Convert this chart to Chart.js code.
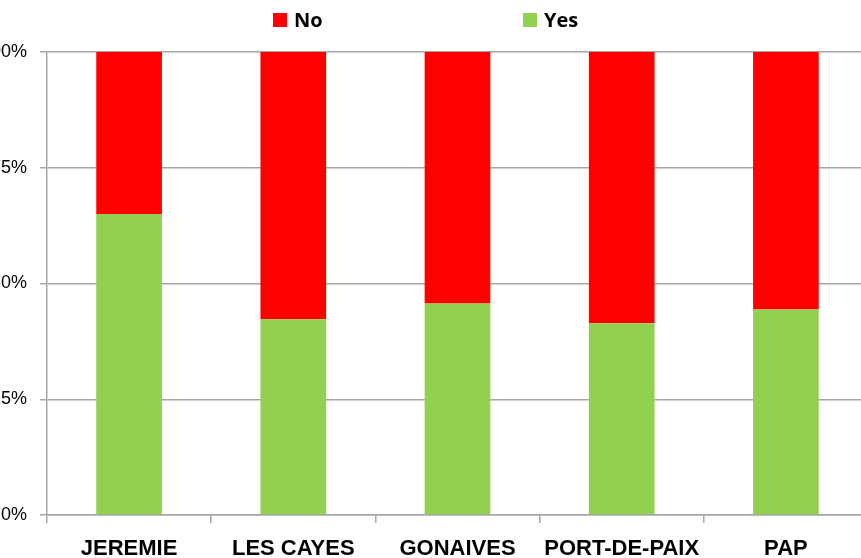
<!DOCTYPE html>
<html>
<head>
<meta charset="utf-8">
<script src="https://cdn.jsdelivr.net/npm/chart.js@4"></script>
<style>
  html, body { margin: 0; padding: 0; background: #fff; overflow: hidden; width: 861px; height: 558px; }
  #wrap { position: relative; width: 869px; height: 566px; }
  #legend { position: absolute; top: 0; left: 0; width: 861px; height: 40px; font-family: "Open Sans", sans-serif; font-weight: 700; font-size: 20px; color: #000; }
  .item { position: absolute; top: 6px; line-height: 27px; white-space: nowrap; }
  .item span.box { display: inline-block; width: 14px; height: 14px; margin-right: 7px; vertical-align: 0px; }
</style>
</head>
<body>
<div id="wrap">
  <canvas id="chart" width="869" height="566"></canvas>
  <div id="legend"></div>
</div>
<script>
'use strict';

// categories and values (percent)
const categories = ['JEREMIE', 'LES CAYES', 'GONAIVES', 'PORT-DE-PAIX', 'PAP'];
const yesValues = [65.0, 42.3, 45.7, 41.4, 44.4];
const noValues = [35.0, 57.7, 54.3, 58.6, 55.6];
const yTicks = [0, 25, 50, 75, 100];

const colorNo = '#ff0000';
const colorYes = '#92d050';

// legend order as in the picture: No first, then Yes
const legendItems = [
  { label: 'No', color: colorNo, left: 273 },
  { label: 'Yes', color: colorYes, left: 523 }
];

function buildLegend() {
  const el = document.getElementById('legend');
  legendItems.forEach(function(it) {
    const d = document.createElement('div');
    d.className = 'item';
    d.style.left = it.left + 'px';
    const b = document.createElement('span');
    b.className = 'box';
    b.style.background = it.color;
    d.appendChild(b);
    d.appendChild(document.createTextNode(it.label));
    el.appendChild(d);
  });
}

const gridColor = '#a6a6a6';

new Chart(document.getElementById('chart'), {
  type: 'bar',
  data: {
    labels: categories,
    datasets: [
      { label: 'Yes', data: yesValues, backgroundColor: colorYes, barPercentage: 0.4, categoryPercentage: 1.0 },
      { label: 'No', data: noValues, backgroundColor: colorNo, barPercentage: 0.4, categoryPercentage: 1.0 }
    ]
  },
  options: {
    responsive: false,
    animation: false,
    layout: { padding: { top: 52, right: 1, left: 0, bottom: 0 } },
    plugins: {
      legend: { display: false },
      tooltip: { enabled: false }
    },
    scales: {
      x: {
        stacked: true,
        afterFit: function(axis) { axis.height = 51; },
        grid: { display: true, drawOnChartArea: false, drawTicks: true, tickLength: 8, color: gridColor, lineWidth: 1.5 },
        border: { display: true, color: gridColor, width: 1.5 },
        ticks: {
          color: '#000',
          padding: 13,
          maxRotation: 0,
          autoSkip: false,
          font: { family: '"Liberation Sans", Arial, sans-serif', size: 22, weight: 'bold' }
        }
      },
      y: {
        stacked: true,
        min: 0,
        max: 100,
        afterBuildTicks: function(axis) { axis.ticks = yTicks.map(function(v) { return { value: v }; }); },
        afterFit: function(axis) { axis.width = 47; },
        grid: { color: gridColor, lineWidth: 1.5, tickLength: 7 },
        border: { display: true, color: gridColor, width: 1.5 },
        ticks: {
          color: '#000',
          padding: 13,
          callback: function(v) { return v + '%'; },
          font: { family: '"Liberation Sans", Arial, sans-serif', size: 18 }
        }
      }
    }
  }
});

buildLegend();
</script>
</body>
</html>
